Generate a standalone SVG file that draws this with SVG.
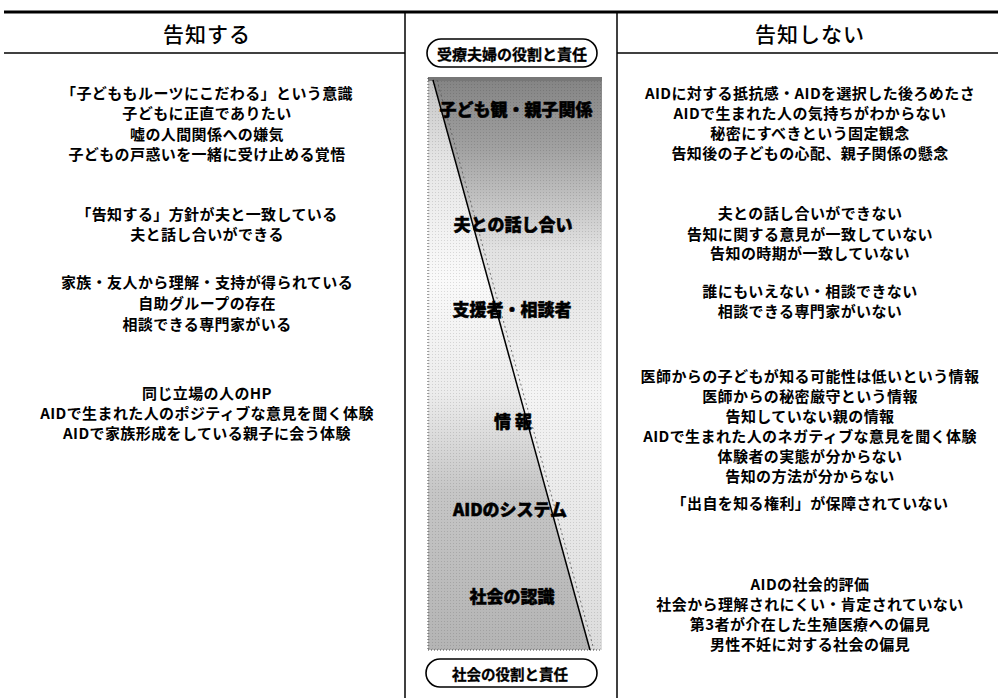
<svg xmlns="http://www.w3.org/2000/svg" width="998" height="698" viewBox="0 0 998 698">
<style>
text{font-family:"Noto Sans CJK JP","Noto Sans CJK SC",sans-serif;fill:#000;text-anchor:middle;dominant-baseline:central}
.b{font-size:15px;font-weight:bold;letter-spacing:0.4px}
.h{font-size:21px;font-weight:500;letter-spacing:1px}
.c{font-size:17px;font-weight:900;stroke:#000;stroke-width:0.5px}
.p{font-size:15px;font-weight:bold;stroke:#000;stroke-width:0.3px}
.ln{stroke:#000;fill:none}
.pill{fill:#fff;stroke:#000;stroke-width:1.6}
</style>
<defs>
<linearGradient id="gR" x1="0" y1="78" x2="0" y2="650" gradientUnits="userSpaceOnUse">
<stop offset="0" stop-color="#848484"/>
<stop offset="0.12" stop-color="#a0a0a0"/>
<stop offset="0.3" stop-color="#e2e2e2"/>
<stop offset="0.55" stop-color="#f4f4f4"/>
<stop offset="1" stop-color="#dcdcdc"/>
</linearGradient>
<linearGradient id="gL" x1="0" y1="78" x2="0" y2="650" gradientUnits="userSpaceOnUse">
<stop offset="0" stop-color="#c4c4c4"/>
<stop offset="0.15" stop-color="#e6e6e6"/>
<stop offset="0.35" stop-color="#fafafa"/>
<stop offset="0.55" stop-color="#ececec"/>
<stop offset="0.72" stop-color="#c6c6c6"/>
<stop offset="1" stop-color="#b4b4b4"/>
</linearGradient>
<pattern id="dots" width="3" height="3" patternUnits="userSpaceOnUse">
<rect x="0" y="0" width="1" height="1" fill="#000" fill-opacity="0.12"/>
</pattern>
</defs>

<g id="frame">
<line class="ln" x1="4" y1="12" x2="998" y2="12" stroke-width="3"/>
<line class="ln" x1="4" y1="53" x2="405" y2="53" stroke-width="1.5"/>
<line class="ln" x1="617" y1="53" x2="998" y2="53" stroke-width="1.5"/>
<line class="ln" x1="405" y1="12" x2="405" y2="698" stroke-width="1.5"/>
<line class="ln" x1="617" y1="12" x2="617" y2="698" stroke-width="1.5"/>
</g>

<g id="panel">
<polygon points="428,78 433,78 590,650 428,650" fill="url(#gL)"/>
<polygon points="433,78 602,78 602,650 590,650" fill="url(#gR)"/>
<rect x="428" y="78" width="174" height="572" fill="url(#dots)"/>
<rect x="428" y="77" width="174" height="4" fill="#777"/>
<line x1="428" y1="78" x2="428" y2="650" stroke="#444" stroke-width="1" stroke-dasharray="1 2"/>
<line x1="428" y1="650" x2="602" y2="650" stroke="#444" stroke-width="1" stroke-dasharray="1 2"/>
<line x1="433" y1="80" x2="590" y2="650" stroke="#000" stroke-width="1.5"/>
<line x1="437" y1="80" x2="594" y2="650" stroke="#555" stroke-width="0.8" stroke-dasharray="2 3"/>
</g>

<g id="header-left"><text class="h" x="207" y="33">告知する</text></g>
<g id="header-right"><text class="h" x="810" y="33">告知しない</text></g>

<g id="pill-top">
<rect class="pill" x="427" y="39" width="170" height="28" rx="14"/>
<text class="p" x="512" y="53">受療夫婦の役割と責任</text>
</g>
<g id="pill-bottom">
<rect class="pill" x="426" y="659" width="171" height="28" rx="14"/>
<text class="p" x="510" y="673" style="font-size:14.5px">社会の役割と責任</text>
</g>

<g id="c1"><text class="c" x="516" y="108">子ども観・親子関係</text></g>
<g id="c2"><text class="c" x="513" y="223">夫との話し合い</text></g>
<g id="c3"><text class="c" x="512" y="308">支援者・相談者</text></g>
<g id="c4"><text class="c" x="513" y="420">情 報</text></g>
<g id="c5"><text class="c" x="510" y="508">AIDのシステム</text></g>
<g id="c6"><text class="c" x="512" y="595">社会の認識</text></g>

<g id="left1">
<text class="b" x="207" y="92">「子どももルーツにこだわる」という意識</text>
<text class="b" x="207" y="112">子どもに正直でありたい</text>
<text class="b" x="207" y="133">嘘の人間関係への嫌気</text>
<text class="b" x="207" y="153">子どもの戸惑いを一緒に受け止める覚悟</text>
</g>
<g id="left2">
<text class="b" x="207" y="213">「告知する」方針が夫と一致している</text>
<text class="b" x="207" y="233">夫と話し合いができる</text>
</g>
<g id="left3">
<text class="b" x="207" y="281">家族・友人から理解・支持が得られている</text>
<text class="b" x="207" y="302">自助グループの存在</text>
<text class="b" x="207" y="323">相談できる専門家がいる</text>
</g>
<g id="left4">
<text class="b" x="207" y="392">同じ立場の人のHP</text>
<text class="b" x="207" y="412">AIDで生まれた人のポジティブな意見を聞く体験</text>
<text class="b" x="207" y="432">AIDで家族形成をしている親子に会う体験</text>
</g>

<g id="right1">
<text class="b" x="810" y="92">AIDに対する抵抗感・AIDを選択した後ろめたさ</text>
<text class="b" x="810" y="112">AIDで生まれた人の気持ちがわからない</text>
<text class="b" x="810" y="132">秘密にすべきという固定観念</text>
<text class="b" x="810" y="152">告知後の子どもの心配、親子関係の懸念</text>
</g>
<g id="right2">
<text class="b" x="810" y="212">夫との話し合いができない</text>
<text class="b" x="810" y="233">告知に関する意見が一致していない</text>
<text class="b" x="810" y="252">告知の時期が一致していない</text>
</g>
<g id="right3">
<text class="b" x="810" y="290">誰にもいえない・相談できない</text>
<text class="b" x="810" y="310">相談できる専門家がいない</text>
</g>
<g id="right4">
<text class="b" x="810" y="375">医師からの子どもが知る可能性は低いという情報</text>
<text class="b" x="810" y="395">医師からの秘密厳守という情報</text>
<text class="b" x="810" y="415">告知していない親の情報</text>
<text class="b" x="810" y="435">AIDで生まれた人のネガティブな意見を聞く体験</text>
<text class="b" x="810" y="455">体験者の実態が分からない</text>
<text class="b" x="810" y="475">告知の方法が分からない</text>
</g>
<g id="right5">
<text class="b" x="810" y="502">「出自を知る権利」が保障されていない</text>
</g>
<g id="right6">
<text class="b" x="810" y="583">AIDの社会的評価</text>
<text class="b" x="810" y="603">社会から理解されにくい・肯定されていない</text>
<text class="b" x="810" y="623">第3者が介在した生殖医療への偏見</text>
<text class="b" x="810" y="643">男性不妊に対する社会の偏見</text>
</g>
</svg>
